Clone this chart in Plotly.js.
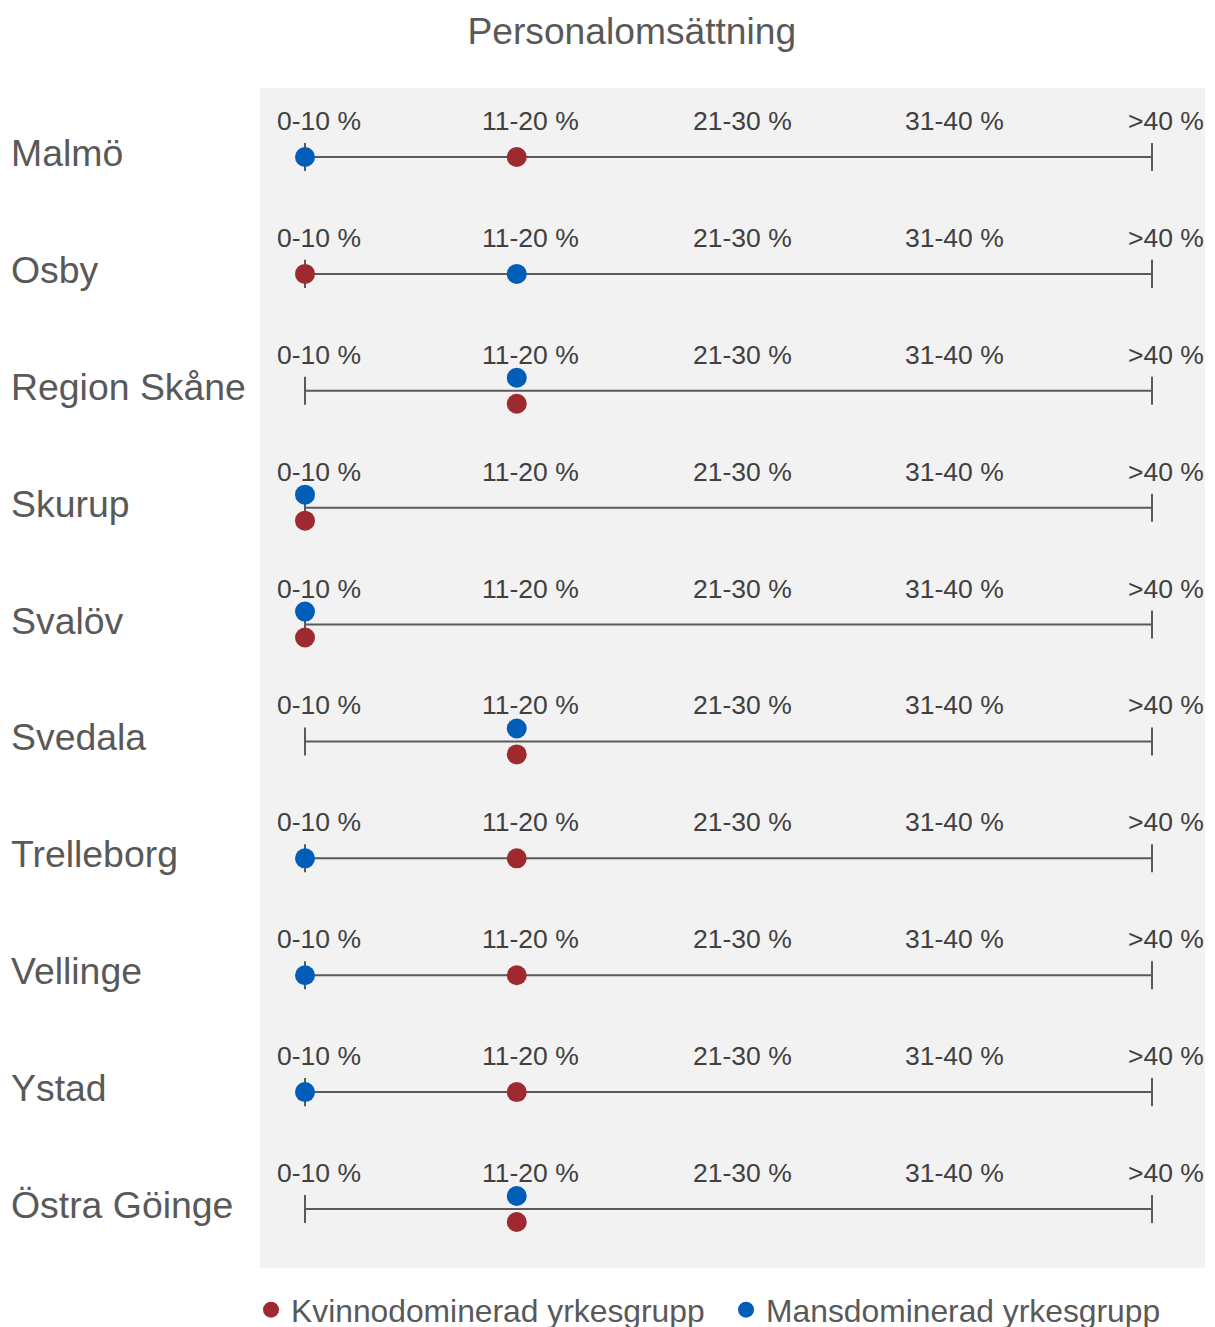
<!DOCTYPE html>
<html>
<head>
<meta charset="utf-8">
<script src="https://cdn.plot.ly/plotly-3.0.1.min.js"></script>
<style>html,body{margin:0;padding:0;background:#fff;}</style>
</head>
<body>
<div id="chart" style="width:1215px;height:1327px;"></div>
<script>
const categories = ["Malmö","Osby","Region Skåne","Skurup","Svalöv","Svedala","Trelleborg","Vellinge","Ystad","Östra Göinge"];
const bandLabels = ["0-10 %","11-20 %","21-30 %","31-40 %",">40 %"];
// band index (0 = 0-10 %, 1 = 11-20 %, ...)
const kvinnodominerad = [1,0,1,0,0,1,1,1,1,1];
const mansdominerad   = [0,1,1,0,0,1,0,0,0,1];

const FONT = "Liberation Sans, Arial, sans-serif";
const RED = "#9e2a2f", BLUE = "#005eb8", LINE = "#5a5a5a";
const DOT_OFF = 0.111, TICK_H = 0.12;

// rows: horizontal line + end ticks
const lx = [], ly = [];
categories.forEach((c, i) => {
  const last = bandLabels.length - 1;
  lx.push(0, last, null, 0, 0, null, last, last, null);
  ly.push(i, i, null, i - TICK_H, i + TICK_H, null, i - TICK_H, i + TICK_H, null);
});

const redY = categories.map((c, i) => kvinnodominerad[i] === mansdominerad[i] ? i + DOT_OFF : i);
const blueY = categories.map((c, i) => kvinnodominerad[i] === mansdominerad[i] ? i - DOT_OFF : i);

const traces = [
  {x: lx, y: ly, mode: "lines", line: {color: LINE, width: 2}, showlegend: false, hoverinfo: "skip"},
  {x: kvinnodominerad, y: redY, mode: "markers", name: "Kvinnodominerad yrkesgrupp",
   marker: {color: RED, size: 20}, hoverinfo: "skip"},
  {x: mansdominerad, y: blueY, mode: "markers", name: "Mansdominerad yrkesgrupp",
   marker: {color: BLUE, size: 20}, hoverinfo: "skip"}
];

const annotations = [];
categories.forEach((c, i) => {
  annotations.push({xref: "paper", x: -0.2624, xanchor: "left", xshift: -3, yref: "y", y: i, yanchor: "middle",
    yshift: 4, text: c, showarrow: false, font: {family: FONT, size: 37.4, color: "#595959"}});
  bandLabels.forEach((b, j) => {
    annotations.push({xref: "x", x: j, yref: "y", y: i, xanchor: "center", yanchor: "middle",
      xshift: 14, yshift: 36, text: b, showarrow: false, font: {family: FONT, size: 26.5, color: "#404040"}});
  });
});

const layout = {
  width: 1215, height: 1327,
  margin: {l: 260, r: 10, t: 88, b: 59, autoexpand: false},
  paper_bgcolor: "#ffffff", plot_bgcolor: "#f2f2f2",
  title: {text: "Personalomsättning", xref: "container", x: 0.52, xanchor: "center",
    yref: "container", y: 0.977, yanchor: "middle", font: {family: FONT, size: 37.2, color: "#595959"}},
  xaxis: {range: [-0.2125, 4.2503], showgrid: false, zeroline: false, showticklabels: false, fixedrange: true},
  yaxis: {range: [9.5048, -0.5903], showgrid: false, zeroline: false, showticklabels: false, fixedrange: true},
  showlegend: true,
  legend: {orientation: "h", x: -0.0095, xanchor: "left", y: -0.0356, yanchor: "middle",
    entrywidth: 430, font: {family: FONT, size: 31.8, color: "#595959"}, bgcolor: "rgba(0,0,0,0)"},
  annotations: annotations,
  hovermode: false
};

Plotly.newPlot("chart", traces, layout, {displayModeBar: false, staticPlot: true});
</script>
</body>
</html>
